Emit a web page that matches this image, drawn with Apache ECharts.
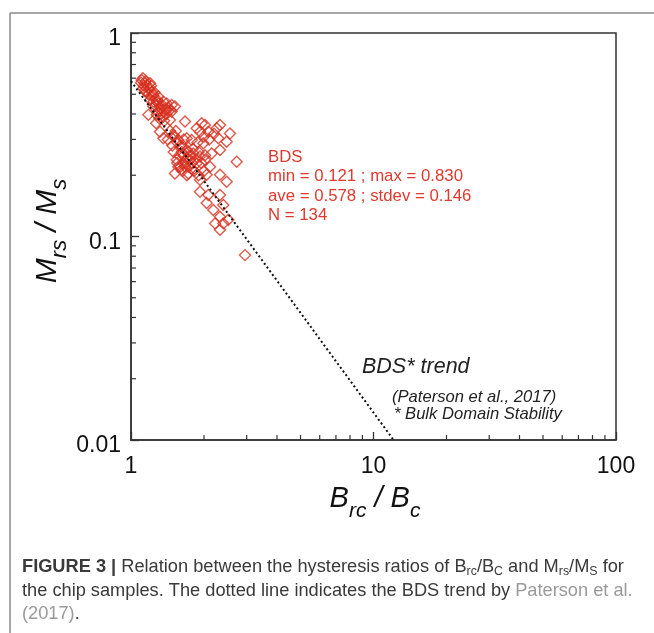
<!DOCTYPE html>
<html><head><meta charset="utf-8">
<script src="https://cdn.jsdelivr.net/npm/echarts@6/dist/echarts.min.js"></script>
<style>html,body{margin:0;padding:0;background:#fff}#c{width:654px;height:633px}</style>
</head><body><div id="c"></div>
<script>
// ---- data ----
const bdsX = [1.107,1.142,1.198,1.124,1.160,1.217,1.236,1.296,1.276,1.359,1.403,1.472,1.518,1.236,1.317,1.403,1.472,1.179,1.276,1.359,
  1.448,1.670,1.956,2.019,1.866,2.328,2.256,1.925,2.084,2.560,1.317,1.359,1.495,1.567,1.697,1.779,2.292,2.480,1.988,2.151,
  2.328,1.618,1.697,1.807,1.925,2.019,1.543,1.644,1.751,1.866,2.019,1.567,1.670,1.779,2.728,1.518,1.723,2.118,2.328,2.051,
  1.925,2.480,1.925,2.084,2.328,2.051,2.403,2.186,2.328,2.221,2.403,2.328,2.520,2.952,
  1.10,1.12,1.13,1.15,1.17,1.14,1.19,1.21,1.18,1.22,1.25,1.20,1.24,1.28,1.30,1.26,1.32,1.35,1.38,1.33,1.29,1.42,1.45,1.40,1.31,1.37,1.27,
  1.45,1.50,1.55,1.60,1.62,1.58,1.65,1.70,1.72,1.68,1.75,1.78,1.80,1.85,1.55,1.60,1.63,1.73,1.82,1.90,1.95,1.50,1.48,1.42,1.53,1.65,1.88,2.00,2.10,2.20,1.90,2.00,1.70];
const bdsY = [0.588,0.566,0.566,0.535,0.515,0.515,0.496,0.486,0.460,0.460,0.451,0.443,0.435,0.435,0.418,0.418,0.411,0.396,0.396,0.388,
  0.374,0.367,0.360,0.353,0.340,0.353,0.340,0.327,0.327,0.321,0.327,0.304,0.315,0.298,0.304,0.298,0.304,0.292,0.287,0.256,
  0.266,0.276,0.266,0.256,0.247,0.251,0.238,0.229,0.238,0.229,0.238,0.220,0.220,0.216,0.233,0.204,0.204,0.220,0.201,0.201,
  0.190,0.186,0.166,0.160,0.160,0.146,0.143,0.135,0.125,0.116,0.116,0.108,0.121,0.081,
  0.57,0.60,0.55,0.58,0.55,0.52,0.53,0.55,0.50,0.49,0.51,0.47,0.46,0.47,0.45,0.44,0.43,0.44,0.42,0.40,0.41,0.43,0.42,0.40,0.38,0.37,0.36,
  0.33,0.31,0.29,0.28,0.26,0.25,0.25,0.24,0.26,0.23,0.25,0.23,0.27,0.24,0.23,0.22,0.21,0.22,0.21,0.26,0.23,0.26,0.28,0.30,0.33,0.30,0.29,0.31,0.30,0.32,0.20,0.21,0.20];
const trendX = [1, 12.1];
const trendY = [0.58, 0.01];
const xMinorTicks = [2,3,4,5,6,7,8,9,20,30,40,50,60,70,80,90];
const yMinorTicks = [0.02,0.03,0.04,0.05,0.06,0.07,0.08,0.09,0.2,0.3,0.4,0.5,0.6,0.7,0.8,0.9];
const xTickLabels = {1:'1',10:'10',100:'100'};
const yTickLabels = {0.01:'0.01',0.1:'0.1',1:'1'};
const statLines = ['BDS','min = 0.121 ; max = 0.830','ave = 0.578 ; stdev = 0.146','N = 134'];

// ---- layout helpers ----
const FF = "'Liberation Sans', Arial, sans-serif";
const ctx = document.createElement('canvas').getContext('2d');
function tw(p, t){ ctx.font = (p.fontStyle||'normal')+' '+(p.fontWeight||'normal')+' '+p.fontSize+'px '+FF; return ctx.measureText(t).width; }
function runs(parts, x, y, align){
  let total = 0; parts.forEach(p => { p.w = tw(p, p.text); total += p.w; });
  let cx = align === 'center' ? x - total/2 : x;
  return parts.map(p => { const el = {type:'text', silent:true, style:{x:cx, y:y+(p.dy||0), text:p.text, fontSize:p.fontSize, fontStyle:p.fontStyle||'normal', fontWeight:p.fontWeight||'normal', fontFamily:FF, fill:p.fill||'#111', verticalAlign:'middle', textAlign:'left'}}; cx += p.w; return el; });
}

const red = '#d7301f';
const it = 'italic';
const xTitle = runs([
  {text:'B', fontSize:29, fontStyle:it},
  {text:'rc', fontSize:21, fontStyle:it, dy:12},
  {text:' / ', fontSize:29, fontStyle:it},
  {text:'B', fontSize:29, fontStyle:it},
  {text:'c', fontSize:21, fontStyle:it, dy:12}
], 375, 499, 'center');
const yTitle = runs([
  {text:'M', fontSize:30, fontStyle:it},
  {text:'rs', fontSize:22, fontStyle:it, dy:12},
  {text:' / ', fontSize:30, fontStyle:it},
  {text:'M', fontSize:30, fontStyle:it},
  {text:'s', fontSize:22, fontStyle:it, dy:12}
], 0, 0, 'center');

// caption: fit first line to the reference width
const cc = '#3a3a3a', cg = '#9a9a9a';
const capTarget = 603;
const cap1Parts = (f, s) => [
  {text:'FIGURE 3 |', fontSize:f, fontWeight:'bold', fill:cc},
  {text:' Relation between the hysteresis ratios of B', fontSize:f, fill:cc},
  {text:'rc', fontSize:s, fill:cc, dy:5},
  {text:'/B', fontSize:f, fill:cc},
  {text:'C', fontSize:s, fill:cc, dy:5},
  {text:' and M', fontSize:f, fill:cc},
  {text:'rs', fontSize:s, fill:cc, dy:5},
  {text:'/M', fontSize:f, fill:cc},
  {text:'S', fontSize:s, fill:cc, dy:5},
  {text:' for', fontSize:f, fill:cc}
];
let w16 = 0; cap1Parts(16, 11).forEach(p => { w16 += tw(p, p.text); });
const cf = 16 * capTarget / w16, cs = cf * 0.68;
const cap1 = runs(cap1Parts(cf, cs), 22, 567, 'left');
const cap2 = runs([
  {text:'the chip samples. The dotted line indicates the BDS trend by ', fontSize:cf, fill:cc},
  {text:'Paterson et al.', fontSize:cf, fill:cg}
], 22, 591, 'left');
const cap3 = runs([
  {text:'(2017)', fontSize:cf, fill:cg},
  {text:'.', fontSize:cf, fill:cc}
], 22, 614, 'left');

const stats = statLines.map((t,i) => ({type:'text', silent:true, style:{x:268, y:157+i*19.5, text:t, fontSize:16.8, fontFamily:FF, fill:'#e0392f', verticalAlign:'middle'}}));

const chart = echarts.init(document.getElementById('c'), null, {renderer:'canvas'});
const tickRender = (dir) => function(params, api){
  const p = api.coord([api.value(0), api.value(1)]);
  const s = dir === 'x' ? {x1:p[0], y1:p[1], x2:p[0], y2:p[1]-5} : {x1:p[0], y1:p[1], x2:p[0]+5, y2:p[1]};
  return {type:'line', shape:s, style:{stroke:'#333', lineWidth:1.2}};
};

chart.setOption({
  animation:false,
  backgroundColor:'#fff',
  grid:{left:131, top:33, width:485, height:407, show:true, borderColor:'#333', borderWidth:1.5, backgroundColor:'transparent'},
  xAxis:{type:'log', logBase:10, min:1, max:100,
    axisLine:{show:true, lineStyle:{color:'#333', width:1.5}},
    axisTick:{show:true, inside:true, length:8, lineStyle:{color:'#333', width:1.3}},
    axisLabel:{fontSize:23, fontFamily:FF, color:'#111', margin:15, formatter:v => xTickLabels[Math.round(v)] || ''},
    splitLine:{show:false}},
  yAxis:{type:'log', logBase:10, min:0.01, max:1,
    axisLine:{show:true, lineStyle:{color:'#333', width:1.5}},
    axisTick:{show:true, inside:true, length:8, lineStyle:{color:'#333', width:1.3}},
    axisLabel:{margin:10, formatter:v => { const t = yTickLabels[+v.toPrecision(3)]; return t ? '{a|' + t + '}' : ''; },
      rich:{a:{fontSize:23, fontFamily:FF, color:'#111', padding:[12,0,0,0]}}},
    splitLine:{show:false}},
  series:[
    {type:'custom', renderItem:tickRender('x'), data:xMinorTicks.map(v => [v, 0.01]), clip:false, silent:true, z:3},
    {type:'custom', renderItem:tickRender('y'), data:yMinorTicks.map(v => [1, v]), clip:false, silent:true, z:3},
    {type:'scatter', data:bdsX.map((x,i) => [x, bdsY[i]]), symbol:'diamond', symbolSize:11,
      itemStyle:{color:'rgba(255,255,255,0)', borderColor:red, borderWidth:1.4}, z:2},
    {type:'line', data:trendX.map((x,i) => [x, trendY[i]]), symbol:'none', z:4,
      lineStyle:{color:'#111', width:2, type:[2,2.6]}}
  ],
  graphic:[
    {type:'line', silent:true, shape:{x1:10, y1:13, x2:654, y2:13}, style:{stroke:'#888', lineWidth:1.5}},
    {type:'line', silent:true, shape:{x1:10, y1:13, x2:10, y2:633}, style:{stroke:'#888', lineWidth:1.5}},
    ...stats,
    {type:'text', silent:true, style:{x:362, y:367, text:'BDS* trend', fontSize:21.5, fontStyle:'italic', fontFamily:FF, fill:'#222', verticalAlign:'middle'}},
    {type:'text', silent:true, style:{x:392, y:397, text:'(Paterson et al., 2017)', fontSize:16.6, fontStyle:'italic', fontFamily:FF, fill:'#222', verticalAlign:'middle'}},
    {type:'text', silent:true, style:{x:394, y:414, text:'* Bulk Domain Stability', fontSize:16.6, fontStyle:'italic', fontFamily:FF, fill:'#222', verticalAlign:'middle'}},
    ...xTitle,
    {type:'group', x:48, y:231, rotation:Math.PI/2, children:yTitle},
    ...cap1, ...cap2, ...cap3
  ]
});
</script></body></html>
